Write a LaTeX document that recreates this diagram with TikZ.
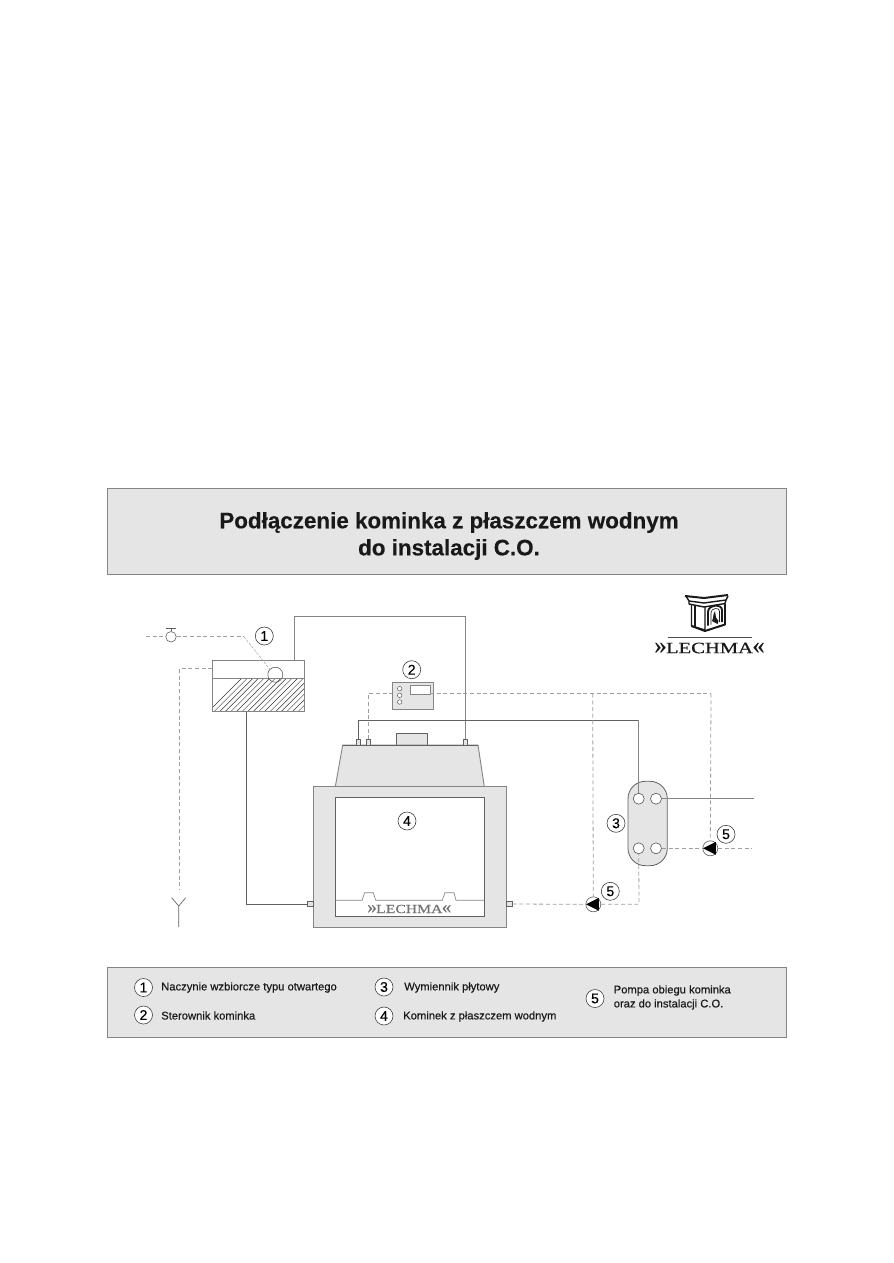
\documentclass[tikz,border=0pt]{standalone}
\usepackage{fontspec}
\setmainfont{Liberation Sans}
\newfontfamily\logofont{Liberation Serif}[FakeBold=0.6]
\newfontfamily\legendfont{Liberation Sans}[FakeBold=0.35]
\newfontfamily\titlefont{Liberation Sans}[BoldFeatures={FakeBold=0.3}]
\usetikzlibrary{calc}
\definecolor{panel}{gray}{0.90}
\definecolor{edge}{gray}{0.52}
\definecolor{wire}{gray}{0.38}
\def\px{0.75pt}
\newcommand{\brandword}[2]{\scalebox{1.55}{»}\hspace{-0.5pt}\scalebox{#1}[1]{LECHMA}\hspace{-0.5pt}\scalebox{1.55}{«}}
\tikzset{
  x=0.75pt, y=-0.75pt,
  panelbox/.style={draw=edge, fill=panel, line width=0.75pt, inner sep=0pt, outer sep=0pt, anchor=north west},
  whitebox/.style={draw=edge, fill=white, line width=0.6pt, inner sep=0pt, outer sep=0pt, anchor=north west},
  solidline/.style={draw=wire, line width=0.6pt},
  greyline/.style={draw=edge, line width=0.7pt},
  dashline/.style={draw=gray!75, line width=0.6pt, dash pattern=on 3pt off 2pt},
  numcirc/.style={circle, draw=black!75, fill=white, line width=0.45pt, minimum size=18*\px, inner sep=0pt, font=\legendfont\fontsize{10.5pt}{11pt}\selectfont},
  port/.style={circle, draw=wire, fill=white, line width=0.5pt, minimum size=11*\px, inner sep=0pt},
  stub/.style={draw=wire, fill=panel, line width=0.45pt, inner sep=0pt, outer sep=0pt, minimum width=4.5*\px, minimum height=5*\px},
  pumpbody/.style={circle, draw=wire, fill=white, line width=0.5pt, minimum size=15*\px, inner sep=0pt},
  legendtext/.style={anchor=west, inner sep=0pt, font=\legendfont\fontsize{8.4pt}{10.5pt}\selectfont, text=black!90},
  lechmatext/.style={inner sep=0pt, font=\logofont}
}
\begin{document}
\begin{tikzpicture}
\useasboundingbox (0,0) rectangle (893,1263);
% Title panel
\node[panelbox, minimum width=679*\px, minimum height=86*\px] (titlebox) at (107,488) {};
\node[inner sep=0pt, font=\titlefont\bfseries\fontsize{16.8pt}{20.3pt}\selectfont, text=black!90, align=center] (title) at (449,536)
  {Podłączenie kominka z płaszczem wodnym\\do instalacji C.O.};
% Legend panel
\node[panelbox, minimum width=679*\px, minimum height=70*\px] (legendbox) at (107,967) {};
\node[numcirc] (l1) at (143.5,987.5) {1};
\node[numcirc] (l2) at (143.5,1015) {2};
\node[numcirc] (l3) at (384,987) {3};
\node[numcirc] (l4) at (384,1016) {4};
\node[numcirc] (l5) at (595,998.5) {5};
\node[legendtext] (t1) at (161,987.5) {Naczynie wzbiorcze typu otwartego};
\node[legendtext] (t2) at (161,1015.5) {Sterownik kominka};
\node[legendtext] (t3) at (404,987.5) {Wymiennik płytowy};
\node[legendtext] (t4) at (403,1016.5) {Kominek z płaszczem wodnym};
\node[legendtext, align=left] (t5) at (613.5,997.5) {Pompa obiegu kominka\\oraz do instalacji C.O.};

% Expansion tank
\node[whitebox, minimum width=92*\px, minimum height=51.5*\px] (tank) at (212.3,660.3) {};
\begin{scope}
  \clip (212.3,678.7) rectangle (304.3,711.8);
  \foreach \i in {0,5.6,...,150} {
    \draw[black!80, line width=0.35pt] (205+\i,715) -- (205+\i+40,675);
  }
\end{scope}
\draw[edge, line width=0.7pt] (tank.north west |- 0,678.7) -- (tank.north east |- 0,678.7);
\draw[edge, line width=0.6pt] (tank.north west) rectangle (tank.south east);
\node[circle, draw=wire, line width=0.45pt, fill=none, minimum size=15*\px, inner sep=0pt] (float) at (275.3,674.7) {};
% Valve
\node[circle, draw=wire, fill=white, line width=0.45pt, minimum size=10.5*\px, inner sep=0pt] (valve) at (171,636.8) {};
\coordinate (vtop) at (171,628.8);
\draw[wire, line width=0.5pt] (valve.north) -- (vtop) ++(-5,0) -- ++(10,0);
\coordinate (supply) at (146,636.8);
\coordinate (bend) at (244,636.8);
\draw[dashline] (supply) -- (valve.west);
\draw[dashline] (valve.east) -- (bend);
\draw[draw=gray!75, line width=0.35pt, dash pattern=on 2pt off 1pt] (bend) -- (float.north west);
\node[numcirc] (n1) at (264.3,636) {1};
% Overflow
\coordinate (ovfl1) at (179.3,668.7);
\coordinate (ovfl2) at (179.3,890);
\draw[dashline] (tank.west |- ovfl1) -- (ovfl1) -- (ovfl2);
\coordinate (yl) at (171.7,897.7);
\coordinate (yc) at (178.7,906);
\coordinate (yr) at (185.7,897.7);
\coordinate (yb) at (178.7,927);
\draw[wire, line width=0.5pt] (yl) -- (yc) -- (yr) (yc) -- (yb);

% Fireplace hood
\node[panelbox, draw=wire, line width=0.6pt, minimum width=31*\px, minimum height=12*\px] (flue) at (396.3,733.3) {};
\draw[edge, fill=panel, line width=0.7pt] (335.3,786.7) -- (342.7,745) -- (478,745) -- (484.3,786.7) -- cycle;
\draw[wire, line width=0.6pt] (342.7,745) -- (478,745);
\node[stub, minimum height=5.5*\px] (s1) at (358.3,742.2) {};
\node[stub, minimum height=5.5*\px] (s2) at (368.3,742.2) {};
\node[stub, minimum height=5.5*\px] (s3) at (465.3,742.2) {};
% Fireplace body
\node[panelbox, minimum width=193.7*\px, minimum height=141*\px] (body) at (313,786.7) {};
\node[whitebox, draw=wire, minimum width=149*\px, minimum height=119*\px] (glass) at (335.3,797.3) {};
\draw[edge, line width=0.5pt] (335.3,900.3) -- (362,900.3) -- (364.7,892.7) -- (373.3,892.7) -- (375.7,900.3)
  -- (442.3,900.3) -- (445,892.7) -- (454,892.7) -- (456,900.3) -- (484.3,900.3);
\node[lechmatext, text=black!55, font=\logofont\fontsize{9.2pt}{10pt}\selectfont] (brand) at (409.3,909) {\brandword{1.28}{}};
\node[numcirc] (n4) at (407,821) {4};
\node[stub, minimum width=6*\px] (sl) at (310.2,904) {};
\node[stub, minimum width=6*\px] (sr) at (509.5,904) {};

% Controller
\node[panelbox, line width=0.6pt, minimum width=41.4*\px, minimum height=27*\px] (ctrl) at (392.3,682) {};
\node[whitebox, minimum width=19.7*\px, minimum height=9*\px] (disp) at (410.3,685.3) {};
\foreach \yy/\nm in {688.7/a,695.3/b,702/c}
  \node[circle, draw=wire, fill=white, line width=0.4pt, minimum size=4.5*\px, inner sep=0pt] (led\nm) at (399.7,\yy) {};
\node[numcirc] (n2) at (411.7,669.7) {2};

% Heat exchanger
\node[panelbox, draw=wire, line width=0.6pt, rounded corners=13pt, minimum width=39.3*\px, minimum height=84.4*\px] (hx) at (628,781.3) {};
\node[port] (p1) at (638.7,798.7) {};
\node[port] (p2) at (656,798.7) {};
\node[port] (p3) at (638.7,848.3) {};
\node[port] (p4) at (656,848.3) {};
\node[numcirc] (n3) at (616,823.3) {3};

% Solid pipes
\coordinate (a1) at (294.3,616.7);
\coordinate (a2) at (465.3,616.7);
\draw[greyline] (tank.north west -| a1) -- (a1) -- (a2) -- (s3.north);
\coordinate (b1) at (246.7,904);
\draw[solidline] (tank.south west -| b1) -- (b1) -- (sl.west);
\coordinate (c1) at (358.3,720.3);
\coordinate (c2) at (638.7,720.3);
\draw[solidline] (s1.north) -- (c1) -- (c2);
\draw[greyline] (c2) -- (p1.north);
\coordinate (d1) at (754.3,798.7);
\draw[greyline] (p2.east) -- (d1);

% Dashed lines
\coordinate (e1) at (368.3,693.7);
\draw[dashline] (s2.north) -- (e1) -- (ctrl.west |- e1);
\coordinate (e2) at (430,693.7);
\coordinate (e3) at (592.7,693.7);
\coordinate (e4) at (711,693.7);
\draw[dashline] (e2) -- (e4);
\node[pumpbody] (pump1) at (593.3,904.3) {};
\node[pumpbody] (pump2) at (710.3,848.3) {};
\draw[dashline] (e3) -- (pump1.north);
\draw[dashline] (e4) -- (pump2.north);
\coordinate (f1) at (639,904.3);
\draw[dashline] (sr.east) -- (pump1.west);
\draw[dashline] (pump1.east) -- (f1) -- (p3.south);
\coordinate (g1) at (752,848.3);
\draw[dashline] (p4.east) -- (pump2.west);
\draw[dashline] (pump2.east) -- (g1);
\fill[black] (pump1.west) ++(0.5,0) -- ++(13,-6.5) -- ++(0,13) -- cycle;
\fill[black] (pump2.west) ++(0.5,0) -- ++(13,-6.5) -- ++(0,13) -- cycle;
\node[numcirc] (n5a) at (610.3,891.3) {5};
\node[numcirc] (n5b) at (726,834.3) {5};

% Logo
\begin{scope}[line width=1.05pt, black!90, line join=round]
  \draw[line width=1.5pt] (685,596) -- (704,598) -- (728,595);
  \draw (686,596) -- (689,601) -- (704,603) -- (726,600) -- (728,596);
  \draw (689,601) -- (689,604) -- (704,607) -- (725,603.5) -- (726,600);
  \draw (691.5,604.5) -- (691.5,626) -- (705,630) -- (705,606);
  \draw[line width=1.5pt] (691.5,626) -- (705,631) -- (725,624.5);
  \draw (725,603.5) -- (725,624.5);
  \draw (695,605.5) -- (695,627);
  \draw[line width=1.4pt] (708,625.5) -- (708,612) .. controls (708,604.5) and (722,603.5) .. (722,610) -- (722,622);
  \draw[line width=0.5pt] (711,624.5) -- (711,612.5) .. controls (711,608) and (719.5,607) .. (719.5,611) -- (719.5,622);
  \fill (713,618) -- (712,621) -- (717.5,624) -- (718.5,621) -- (716,617.5) -- (715,611) -- (713.5,614.5) -- cycle;
\end{scope}
\coordinate (lg1) at (668,637.7);
\coordinate (lg2) at (752,637.7);
\draw[black!70, line width=1.1pt] (lg1) -- (lg2);
\node[lechmatext, text=black!90, font=\logofont\fontsize{11.8pt}{13pt}\selectfont] (logotext) at (709.5,648) {\brandword{1.31}{}};
\end{tikzpicture}
\end{document}
